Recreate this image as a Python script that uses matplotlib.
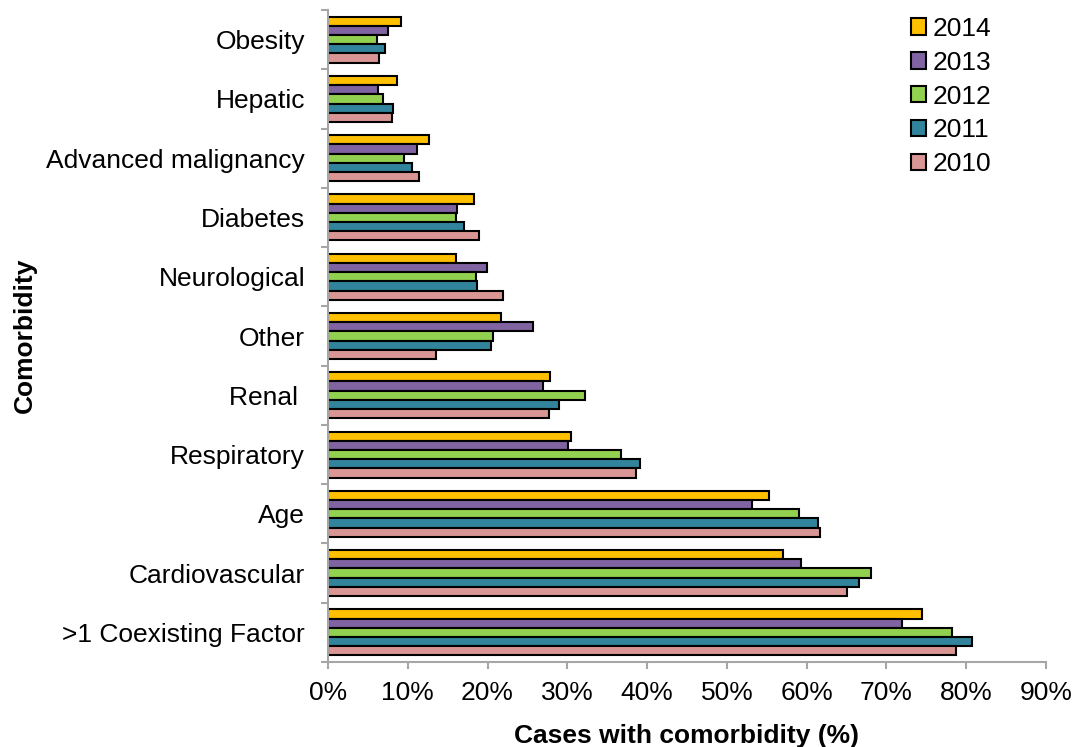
import matplotlib.pyplot as plt
import numpy as np
from matplotlib.ticker import FixedLocator, PercentFormatter

plt.rcParams['font.family'] = ['Liberation Sans', 'DejaVu Sans']

categories = ['Obesity', 'Hepatic', 'Advanced malignancy', 'Diabetes', 'Neurological',
              'Other', 'Renal ', 'Respiratory', 'Age', 'Cardiovascular',
              '>1 Coexisting Factor']
years = ['2014', '2013', '2012', '2011', '2010']

# percent of cases per comorbidity, one list per year
pct_2014 = [9.2, 8.7, 12.6, 18.3, 16.0, 21.7, 27.8, 30.4, 55.3, 57.0, 74.4]
pct_2013 = [7.5, 6.3, 11.2, 16.2, 19.9, 25.7, 26.9, 30.1, 53.2, 59.3, 72.0]
pct_2012 = [6.2, 6.9, 9.5, 16.0, 18.5, 20.7, 32.2, 36.7, 59.1, 68.1, 78.2]
pct_2011 = [7.1, 8.2, 10.5, 17.1, 18.7, 20.4, 29.0, 39.1, 61.4, 66.5, 80.7]
pct_2010 = [6.4, 8.0, 11.4, 18.9, 21.9, 13.5, 27.7, 38.6, 61.7, 65.0, 78.7]

series = [pct_2014, pct_2013, pct_2012, pct_2011, pct_2010]
colors = ['#FFC000', '#8064A2', '#92D050', '#31849B', '#D99694']

fig = plt.figure(figsize=(10.74, 7.47), dpi=100)
ax = fig.add_axes([328 / 1074, 1 - 662 / 747, (1046 - 328) / 1074, (662 - 10) / 747])

y = np.arange(len(categories))
h = 0.155
for i, (vals, col, yr) in enumerate(zip(series, colors, years)):
    offs = (i - 2) * h
    ax.barh(y + offs, vals, height=h, color=col, edgecolor='black',
            linewidth=1.5, label=yr)

ax.set_ylim(len(categories) - 0.5, -0.5)
ax.set_xlim(0, 90)

gray = '#A6A6A6'
for s in ['top', 'right']:
    ax.spines[s].set_visible(False)
for s in ['left', 'bottom']:
    ax.spines[s].set_color(gray)
    ax.spines[s].set_linewidth(1.5)

ax.set_yticks(y)
ax.set_yticklabels(categories, fontsize=19)
ax.yaxis.set_minor_locator(FixedLocator(np.arange(-0.5, len(categories), 1.0)))
ax.tick_params(axis='y', which='major', length=0, pad=16.5)
ax.tick_params(axis='y', which='minor', length=5, width=1.5, color=gray, direction='out')

ax.set_xticks(np.arange(0, 91, 10))
ax.xaxis.set_major_formatter(PercentFormatter(decimals=0))
ax.tick_params(axis='x', which='major', length=5, width=1.5, color=gray,
               direction='out', labelsize=19, pad=9)

ax.set_xlabel('Cases with comorbidity (%)', fontsize=19, fontweight='bold', labelpad=13)
fig.text(25 / 1074, 1 - 335 / 747, 'Comorbidity', rotation=90, fontsize=19,
         fontweight='bold', ha='center', va='center')

ax.legend(loc='upper left', bbox_to_anchor=(911 / 1074, 1 - 17 / 747),
          bbox_transform=fig.transFigure, frameon=False, fontsize=19,
          handlelength=0.58, handleheight=0.58, handletextpad=0.25,
          labelspacing=0.37, borderpad=0, borderaxespad=0)

fig.savefig('out.png', dpi=100)
